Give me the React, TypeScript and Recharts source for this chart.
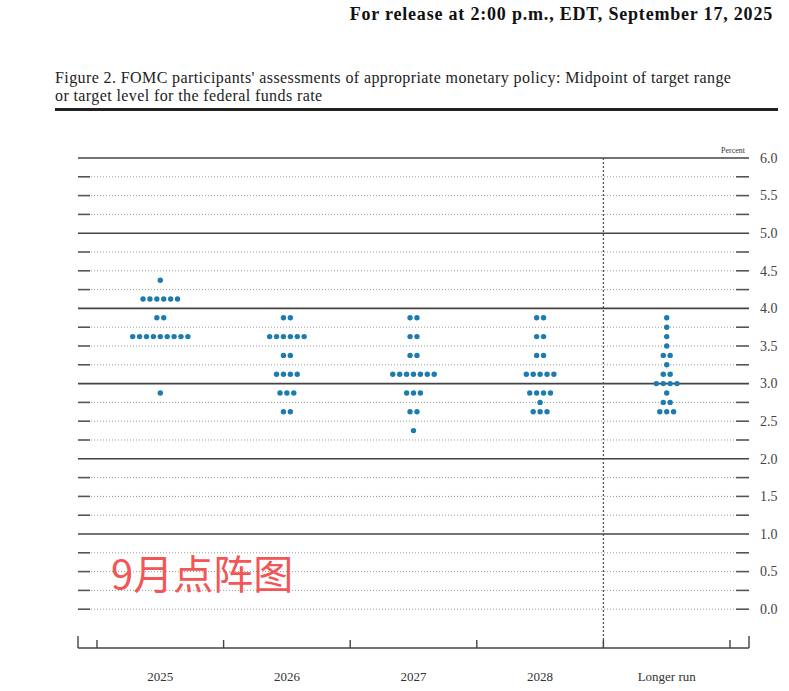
import React from "react";
import {
  ScatterChart,
  Scatter,
  XAxis,
  YAxis,
  ReferenceLine,
} from "recharts";

const categories = ["2025", "2026", "2027", "2028", "Longer run"];

// midpoints and number of participants at each
const rates2025 = [4.375, 4.125, 3.875, 3.625, 2.875];
const counts2025 = [1, 6, 2, 9, 1];
const rates2026 = [3.875, 3.625, 3.375, 3.125, 2.875, 2.625];
const counts2026 = [2, 6, 2, 4, 3, 2];
const rates2027 = [3.875, 3.625, 3.375, 3.125, 2.875, 2.625, 2.375];
const counts2027 = [2, 2, 2, 7, 3, 2, 1];
const rates2028 = [3.875, 3.625, 3.375, 3.125, 2.875, 2.75, 2.625];
const counts2028 = [2, 2, 2, 5, 4, 1, 3];
const ratesLonger = [3.875, 3.75, 3.625, 3.5, 3.375, 3.25, 3.125, 3.0, 2.875, 2.75, 2.625];
const countsLonger = [1, 1, 1, 1, 2, 1, 2, 4, 1, 2, 3];

const yTicks = [0, 0.5, 1, 1.5, 2, 2.5, 3, 3.5, 4, 4.5, 5, 5.5, 6];
const xTicks = [-0.65, -0.5, 0, 0.5, 1, 1.5, 2, 2.5, 3, 3.5, 4, 4.5, 4.65];

const columns = [
  [rates2025, counts2025],
  [rates2026, counts2026],
  [rates2027, counts2027],
  [rates2028, counts2028],
  [ratesLonger, countsLonger],
];

const dots = columns.flatMap(([rates, counts], i) =>
  rates.map((r, j) => ({ x: i, y: r, count: counts[j] }))
);

const gridValues: number[] = [];
for (let v = 0; v <= 6; v += 0.25) gridValues.push(v);

const SERIF = '"Liberation Serif", "Times New Roman", serif';
const DOT = "#1c7bb0";

const DotRow = (props: any) => {
  const { cx, cy, payload } = props;
  const n = payload.count;
  const gap = 6.9;
  return (
    <g>
      {Array.from({ length: n }, (_, k) => (
        <circle
          key={k}
          cx={cx + (k - (n - 1) / 2) * gap}
          cy={cy}
          r={2.7}
          fill={DOT}
        />
      ))}
    </g>
  );
};

// dotted quarter-point line with short solid dashes at both ends
const DottedGrid = (props: any) => {
  const left = Math.min(props.x1, props.x2);
  const right = Math.max(props.x1, props.x2);
  const y = props.y1;
  return (
    <g>
      <line x1={left} y1={y} x2={left + 12} y2={y} stroke="#555" strokeWidth={1.6} />
      <line
        x1={left + 13}
        y1={y}
        x2={right - 14}
        y2={y}
        stroke="#999"
        strokeWidth={1}
        strokeDasharray="1 2"
      />
      <line x1={right - 13} y1={y} x2={right} y2={y} stroke="#555" strokeWidth={1.6} />
    </g>
  );
};

const XTick = (props: any) => {
  const { x, y, payload } = props;
  const v = payload.value;
  if (Number.isInteger(v)) {
    return (
      <text
        x={x}
        y={y + 33}
        textAnchor="middle"
        fontFamily={SERIF}
        fontSize={13}
        fill="#333"
      >
        {categories[v]}
      </text>
    );
  }
  const edge = v < -0.55 || v > 4.55;
  return <line x1={x} y1={y} x2={x} y2={y - (edge ? 12 : 8)} stroke="#444" strokeWidth={1.4} />;
};

const YTick = (props: any) => {
  const { x, y, payload } = props;
  return (
    <text
      x={x + 11}
      y={y}
      dy="0.35em"
      textAnchor="start"
      fontFamily={SERIF}
      fontSize={14}
      fill="#444"
    >
      {payload.value.toFixed(1)}
    </text>
  );
};

export default function App() {
  return (
    <div
      style={{
        position: "absolute",
        left: 0,
        top: 0,
        width: 789,
        height: 691,
        background: "#fff",
        fontFamily: SERIF,
        overflow: "hidden",
      }}
    >
      <div
        style={{
          position: "absolute",
          right: 16,
          top: 4,
          fontSize: 18,
          letterSpacing: 0.8,
          lineHeight: "20px",
          fontWeight: "bold",
          color: "#111",
          whiteSpace: "nowrap",
        }}
      >
        For release at 2:00 p.m., EDT, September 17, 2025
      </div>
      <div
        style={{
          position: "absolute",
          left: 55,
          top: 69,
          fontSize: 16,
          letterSpacing: 0.4,
          lineHeight: "18px",
          color: "#222",
          whiteSpace: "nowrap",
        }}
      >
        Figure 2. FOMC participants' assessments of appropriate monetary policy: Midpoint of target range
        <br />
        or target level for the federal funds rate
      </div>
      <div
        style={{
          position: "absolute",
          left: 55,
          top: 108,
          width: 723,
          height: 3,
          background: "#222",
        }}
      />
      <div
        style={{
          position: "absolute",
          right: 44,
          top: 146,
          fontSize: 8,
          color: "#333",
        }}
      >
        Percent
      </div>
      <ScatterChart
        width={789}
        height={691}
        margin={{ top: 158, right: 0, bottom: 0, left: 78 }}
      >
        <XAxis
          type="number"
          dataKey="x"
          domain={[-0.65, 4.65]}
          ticks={xTicks}
          interval={0}
          height={43}
          tickSize={0}
          tickMargin={0}
          tickLine={false}
          axisLine={{ stroke: "#444", strokeWidth: 1.6 }}
          tick={<XTick />}
        />
        <YAxis
          type="number"
          dataKey="y"
          orientation="right"
          domain={[-0.516, 6]}
          ticks={yTicks}
          interval={0}
          width={40}
          tickSize={0}
          tickMargin={0}
          tickLine={false}
          axisLine={false}
          tick={<YTick />}
        />
        {gridValues.map((v) =>
          Number.isInteger(v) && v > 0 ? (
            <ReferenceLine key={v} y={v} stroke="#444" strokeWidth={1.6} />
          ) : (
            <ReferenceLine key={v} y={v} shape={<DottedGrid />} />
          )
        )}
        <ReferenceLine x={3.5} stroke="#555" strokeWidth={1.3} strokeDasharray="2 2" />
        <Scatter data={dots} shape={<DotRow />} isAnimationActive={false} />
      </ScatterChart>
      <div
        style={{
          position: "absolute",
          left: 111,
          top: 552,
          fontSize: 40,
          lineHeight: "40px",
          color: "#f25656",
          fontFamily: '"Noto Sans CJK SC", sans-serif',
          whiteSpace: "nowrap",
        }}
      >
        9月点阵图
      </div>
    </div>
  );
}
